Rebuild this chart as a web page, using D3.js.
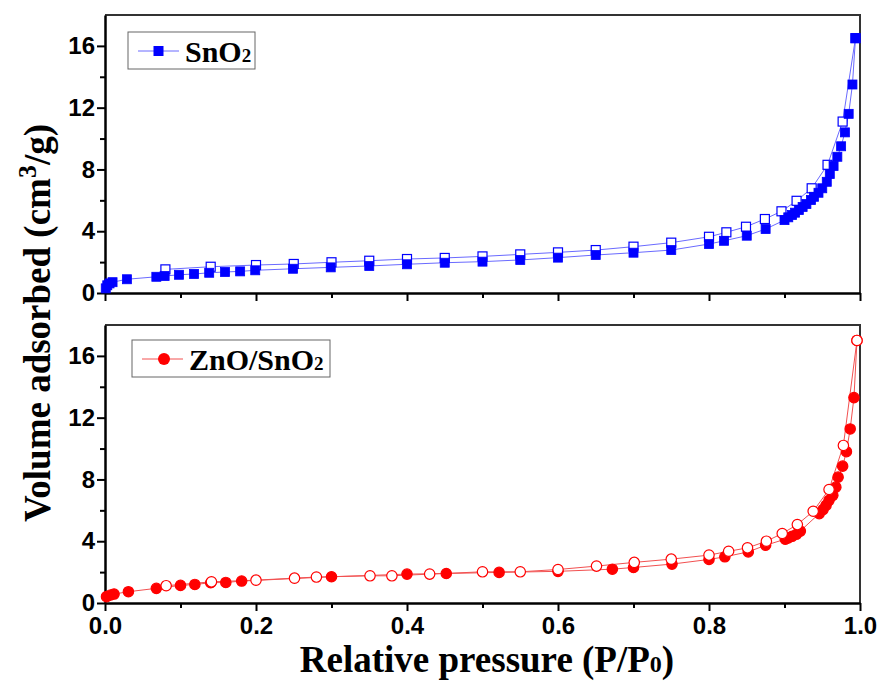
<!DOCTYPE html>
<html>
<head>
<meta charset="utf-8">
<script src="https://cdn.jsdelivr.net/npm/d3@7"></script>
<style>
  body { margin: 0; background: #fff; }
  .tick text { font-family: "Liberation Sans", Arial, sans-serif; font-weight: bold; font-size: 24px; fill: #000; }
  .title { font-family: "Liberation Serif", "Times New Roman", serif; font-weight: bold; fill: #000; }
</style>
</head>
<body>
<svg id="chart" width="885" height="684"></svg>
<script>
// tick values
const xTicks = [0, 0.2, 0.4, 0.6, 0.8, 1.0];
const xMinor = [0.1, 0.3, 0.5, 0.7, 0.9];
const yTicks = [0, 4, 8, 12, 16];
const yMinor = [2, 6, 10, 14];

// SnO2 adsorption (filled squares)
const snAdsP = [0.001, 0.003, 0.006, 0.010, 0.029, 0.068, 0.079, 0.098, 0.118, 0.138, 0.159, 0.179, 0.199, 0.249, 0.299, 0.35, 0.40, 0.45, 0.50, 0.55, 0.60, 0.65, 0.70, 0.75, 0.80, 0.82, 0.85, 0.875, 0.90, 0.905, 0.91, 0.914, 0.919, 0.924, 0.929, 0.935, 0.939, 0.945, 0.950, 0.956, 0.960, 0.965, 0.970, 0.975, 0.980, 0.985, 0.990, 0.994];
const snAdsV = [0.30, 0.50, 0.62, 0.70, 0.89, 1.05, 1.10, 1.18, 1.23, 1.31, 1.36, 1.40, 1.47, 1.57, 1.66, 1.75, 1.86, 1.96, 2.03, 2.14, 2.29, 2.46, 2.61, 2.78, 3.17, 3.38, 3.71, 4.14, 4.72, 4.90, 5.05, 5.20, 5.37, 5.57, 5.76, 6.02, 6.23, 6.49, 6.78, 7.20, 7.70, 8.22, 8.82, 9.50, 10.4, 11.6, 13.5, 16.5];
// SnO2 desorption (open squares)
const snDesP = [0.994, 0.977, 0.957, 0.936, 0.916, 0.896, 0.874, 0.849, 0.823, 0.80, 0.75, 0.70, 0.65, 0.60, 0.55, 0.50, 0.45, 0.40, 0.35, 0.30, 0.25, 0.20, 0.14, 0.08];
const snDesV = [16.5, 11.1, 8.3, 6.78, 5.97, 5.29, 4.79, 4.29, 3.93, 3.64, 3.26, 3.00, 2.78, 2.63, 2.50, 2.37, 2.27, 2.20, 2.09, 1.99, 1.88, 1.81, 1.70, 1.53];

// ZnO/SnO2 adsorption (filled circles)
const znAdsP = [0.002, 0.0075, 0.012, 0.031, 0.068, 0.10, 0.119, 0.14, 0.16, 0.181, 0.30, 0.40, 0.452, 0.522, 0.60, 0.672, 0.70, 0.751, 0.80, 0.821, 0.852, 0.875, 0.901, 0.905, 0.91, 0.916, 0.921, 0.946, 0.951, 0.955, 0.959, 0.964, 0.968, 0.971, 0.977, 0.982, 0.987, 0.992, 0.996];
const znAdsV = [0.41, 0.52, 0.58, 0.73, 0.95, 1.14, 1.20, 1.31, 1.33, 1.42, 1.70, 1.87, 1.91, 1.98, 2.05, 2.19, 2.30, 2.52, 2.82, 2.99, 3.31, 3.74, 4.13, 4.21, 4.32, 4.45, 4.66, 5.79, 6.05, 6.32, 6.65, 6.97, 7.50, 8.15, 8.86, 9.80, 11.27, 13.3, 17.0];
// ZnO/SnO2 desorption (open circles)
const znDesP = [0.996, 0.978, 0.959, 0.938, 0.917, 0.897, 0.876, 0.851, 0.826, 0.80, 0.75, 0.701, 0.651, 0.60, 0.55, 0.50, 0.43, 0.38, 0.351, 0.28, 0.251, 0.20, 0.141, 0.081];
const znDesV = [17.0, 10.2, 7.35, 5.94, 5.08, 4.50, 4.00, 3.57, 3.35, 3.10, 2.84, 2.63, 2.39, 2.17, 2.02, 2.02, 1.87, 1.76, 1.76, 1.68, 1.61, 1.48, 1.37, 1.12];

const svg = d3.select("#chart");
const left = 105, right = 860;

const x = d3.scaleLinear().domain([0, 1]).range([left, right]);

function pts(ps, vs) {
    return ps.map((p, i) => ({ p: p, v: vs[i] }));
}

function drawPanel(top, bottom, opts) {
    const y = d3.scaleLinear().domain([0, 18]).range([bottom, top]);
    const g = svg.append("g");

    // frame top + right
    g.append("path")
        .attr("d", `M${left},${top}H${right}V${bottom}`)
        .attr("fill", "none").attr("stroke", "#333").attr("stroke-width", 2);

    // minor ticks
    g.append("g").attr("transform", `translate(0,${bottom})`)
        .call(d3.axisBottom(x).tickValues(xMinor).tickSize(5).tickFormat(""))
        .call(a => a.select(".domain").remove())
        .selectAll("line").attr("stroke-width", 2);
    g.append("g").attr("transform", `translate(${left},0)`)
        .call(d3.axisLeft(y).tickValues(yMinor).tickSize(5).tickFormat(""))
        .call(a => a.select(".domain").remove())
        .selectAll("line").attr("stroke-width", 2);

    // main axes
    const xa = g.append("g").attr("transform", `translate(0,${bottom})`)
        .call(d3.axisBottom(x).tickValues(xTicks).tickSize(8).tickSizeOuter(0)
            .tickFormat(opts.xLabels ? d3.format(".1f") : ""));
    xa.select(".domain").attr("stroke-width", 2.5);
    xa.selectAll("line").attr("stroke-width", 2);
    xa.selectAll("text").attr("dy", "0.84em");

    const ya = g.append("g").attr("transform", `translate(${left},0)`)
        .call(d3.axisLeft(y).tickValues(yTicks).tickSize(8).tickSizeOuter(0));
    ya.select(".domain").attr("stroke-width", 2.5);
    ya.selectAll("line").attr("stroke-width", 2);
    ya.selectAll("text").attr("x", -10);

    const line = d3.line().x(d => x(d.p)).y(d => y(d.v));
    const ads = pts(opts.adsP, opts.adsV);
    const des = pts(opts.desP, opts.desV);

    const plot = g.append("g");
    plot.append("path").datum(des).attr("d", line)
        .attr("fill", "none").attr("stroke", opts.lineColor).attr("stroke-width", 1);
    plot.append("path").datum(ads).attr("d", line)
        .attr("fill", "none").attr("stroke", opts.lineColor).attr("stroke-width", 1);

    function markers(data, filled) {
        const sel = plot.append("g").selectAll("*").data(data).enter();
        if (opts.shape === "square") {
            sel.append("rect")
                .attr("x", d => x(d.p) - 4.5).attr("y", d => y(d.v) - 4.5)
                .attr("width", 9).attr("height", 9)
                .attr("fill", filled ? opts.color : "#fff")
                .attr("stroke", opts.color).attr("stroke-width", filled ? 0.8 : 1.2);
        } else {
            sel.append("circle")
                .attr("cx", d => x(d.p)).attr("cy", d => y(d.v)).attr("r", 5.2)
                .attr("fill", filled ? opts.color : "#fff")
                .attr("stroke", opts.color).attr("stroke-width", 1.2);
        }
    }
    if (opts.desOnTop) {
        markers(ads, true);
        markers(des, false);
    } else {
        markers(des, false);
        markers(ads, true);
    }

    // legend
    const lg = g.append("g");
    lg.append("rect")
        .attr("x", opts.legX).attr("y", opts.legY)
        .attr("width", opts.legW).attr("height", 37)
        .attr("fill", "#fff").attr("stroke", "#666").attr("stroke-width", 1);
    const my = opts.legY + 19;
    lg.append("line")
        .attr("x1", opts.legX + 10).attr("x2", opts.legX + 51)
        .attr("y1", my).attr("y2", my)
        .attr("stroke", opts.lineColor).attr("stroke-width", 1);
    if (opts.shape === "square") {
        lg.append("rect").attr("x", opts.legX + 25.5).attr("y", my - 5)
            .attr("width", 10).attr("height", 10).attr("fill", opts.color);
    } else {
        lg.append("circle").attr("cx", opts.legX + 32).attr("cy", my).attr("r", 6)
            .attr("fill", opts.color);
    }
    const t = lg.append("text").attr("class", "title")
        .attr("x", opts.legX + 57).attr("y", my + 11)
        .style("font-size", "30px");
    t.append("tspan").text(opts.name);
    t.append("tspan").text("2").style("font-size", "19px");
}

drawPanel(15, 293, {
    xLabels: false, shape: "square", color: "#0000ff", lineColor: "#6a6aff",
    adsP: snAdsP, adsV: snAdsV, desP: snDesP, desV: snDesV, desOnTop: false,
    name: "SnO", legX: 128, legY: 32, legW: 127
});

drawPanel(325, 603, {
    xLabels: true, shape: "circle", color: "#ff0000", lineColor: "#f25050",
    adsP: znAdsP, adsV: znAdsV, desP: znDesP, desV: znDesV, desOnTop: true,
    name: "ZnO/SnO", legX: 132, legY: 340, legW: 198
});

// axis titles
const xt = svg.append("text").attr("class", "title")
    .attr("x", 487).attr("y", 672).attr("text-anchor", "middle")
    .style("font-size", "37px");
xt.append("tspan").text("Relative pressure (P/P");
xt.append("tspan").text("0").style("font-size", "24px");
xt.append("tspan").text(")");

const yt = svg.append("text").attr("class", "title")
    .attr("transform", "translate(50,323) rotate(-90)")
    .attr("text-anchor", "middle")
    .style("font-size", "37px");
yt.append("tspan").text("Volume adsorbed (cm");
yt.append("tspan").text("3").attr("dy", -14).style("font-size", "26px");
yt.append("tspan").text("/g)").attr("dy", 14);
</script>
</body>
</html>
